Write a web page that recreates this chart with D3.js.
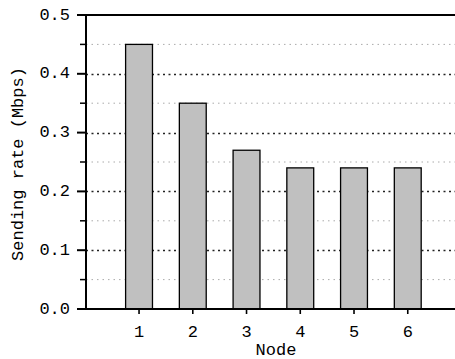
<!DOCTYPE html>
<html>
<head>
<meta charset="utf-8">
<script src="https://cdn.jsdelivr.net/npm/d3@7"></script>
<style>
  html, body { margin: 0; padding: 0; background: #fff; }
  svg { display: block; }
  text { font-family: "Liberation Mono", "DejaVu Sans Mono", monospace; font-size: 17px; fill: #000; }
</style>
</head>
<body>
<svg id="chart" width="455" height="359"></svg>
<script>
// Sending rate per node
const nodes = [1, 2, 3, 4, 5, 6];
const rates = [0.45, 0.35, 0.27, 0.24, 0.24, 0.24];
const majorTicks = [0.0, 0.1, 0.2, 0.3, 0.4, 0.5];
const minorTicks = [0.05, 0.15, 0.25, 0.35, 0.45];
const xLabel = "Node";
const yLabel = "Sending rate (Mbps)";

const W = 455, H = 359;
const svg = d3.select("#chart");

const x = d3.scaleLinear().domain([0, 7]).range([85.3, 461.5]);
const y = d3.scaleLinear().domain([0, 0.5]).range([309, 15]);
const barW = (x(1) - x(0)) / 2;
const left = 86, axisStart = 77;

// grid lines
svg.append("g").selectAll("line.minor").data(minorTicks).join("line")
  .attr("x1", left).attr("x2", W)
  .attr("y1", d => y(d)).attr("y2", d => y(d))
  .attr("stroke", "#aaa").attr("stroke-width", 1)
  .attr("stroke-dasharray", "1.5,4");
svg.append("g").selectAll("line.major").data(majorTicks.filter(d => d > 0 && d < 0.5)).join("line")
  .attr("x1", left).attr("x2", W)
  .attr("y1", d => Math.round(y(d)) + 0.5).attr("y2", d => Math.round(y(d)) + 0.5)
  .attr("stroke", "#222").attr("stroke-width", 1.6)
  .attr("stroke-dasharray", "2,3.5");

// bars
svg.append("g").selectAll("rect").data(nodes).join("rect")
  .attr("x", (d) => x(d) - barW / 2)
  .attr("width", barW)
  .attr("y", (d, i) => y(rates[i]))
  .attr("height", (d, i) => y(0) - y(rates[i]))
  .attr("fill", "#c0c0c0")
  .attr("stroke", "#000")
  .attr("stroke-width", 1.3);

// y axis ticks and labels
const yAxis = svg.append("g");
yAxis.selectAll("line.ymaj").data(majorTicks).join("line")
  .attr("x1", axisStart).attr("x2", left)
  .attr("y1", d => y(d)).attr("y2", d => y(d))
  .attr("stroke", "#000").attr("stroke-width", 2);
yAxis.selectAll("line.ymin").data(minorTicks).join("line")
  .attr("x1", 80).attr("x2", left)
  .attr("y1", d => y(d)).attr("y2", d => y(d))
  .attr("stroke", "#000").attr("stroke-width", 1.5);
yAxis.selectAll("text").data(majorTicks).join("text")
  .attr("x", 70).attr("y", d => y(d))
  .attr("text-anchor", "end").attr("dominant-baseline", "central")
  .text(d => d3.format(".1f")(d));

// x axis ticks and labels
const xAxis = svg.append("g");
xAxis.selectAll("line").data(nodes).join("line")
  .attr("x1", d => x(d)).attr("x2", d => x(d))
  .attr("y1", y(0)).attr("y2", y(0) + 5)
  .attr("stroke", "#000").attr("stroke-width", 1.6);
xAxis.selectAll("text").data(nodes).join("text")
  .attr("x", d => x(d)).attr("y", 337)
  .attr("text-anchor", "middle")
  .text(d => d);

// frame: left, top and bottom lines
svg.append("line").attr("x1", left).attr("x2", left).attr("y1", y(0.5)).attr("y2", y(0))
  .attr("stroke", "#000").attr("stroke-width", 2);
svg.append("line").attr("x1", axisStart).attr("x2", W).attr("y1", y(0.5)).attr("y2", y(0.5))
  .attr("stroke", "#000").attr("stroke-width", 2);
svg.append("line").attr("x1", axisStart).attr("x2", W).attr("y1", y(0)).attr("y2", y(0))
  .attr("stroke", "#000").attr("stroke-width", 2);

// axis titles
svg.append("text").attr("x", 276).attr("y", 355).attr("text-anchor", "middle").text(xLabel);
svg.append("text")
  .attr("transform", "translate(18,164) rotate(-90)")
  .attr("text-anchor", "middle").attr("dominant-baseline", "central")
  .text(yLabel);
</script>
</body>
</html>
